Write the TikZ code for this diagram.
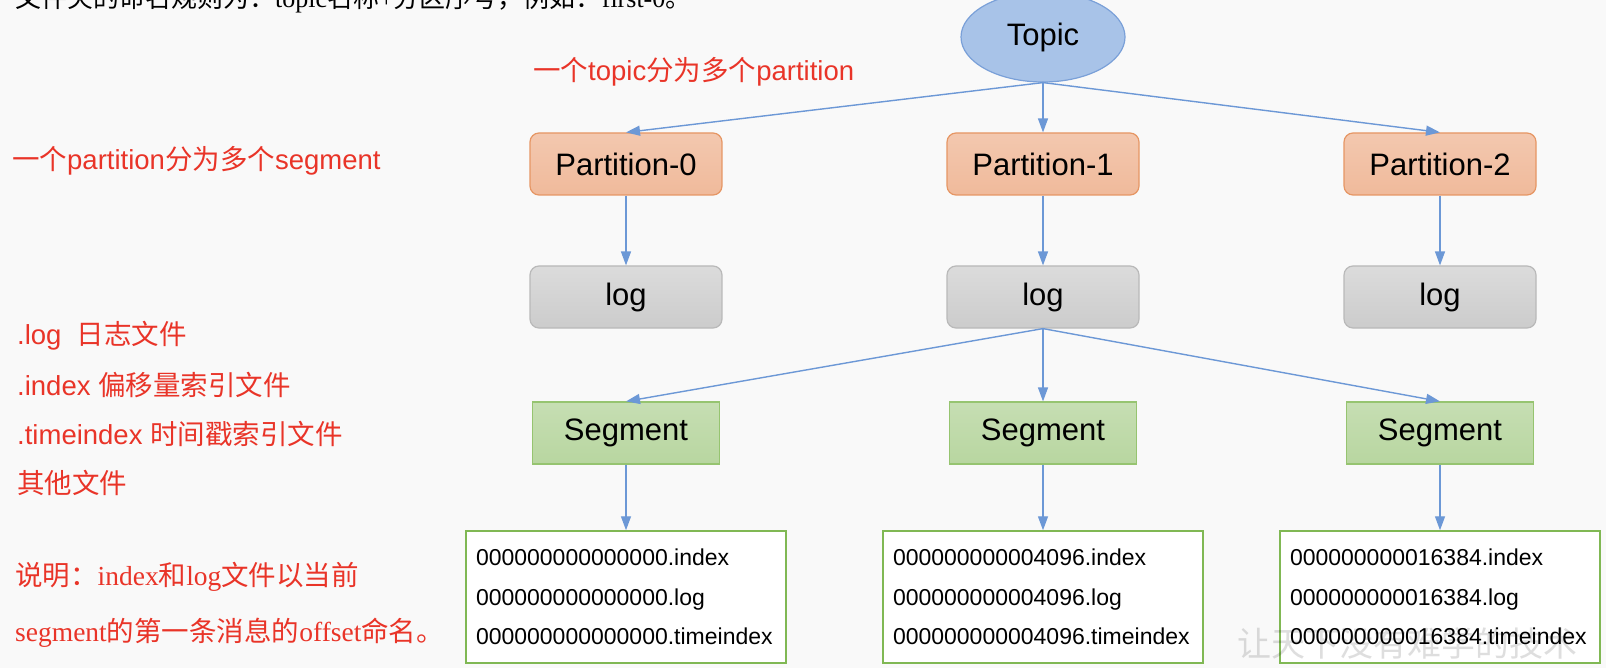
\documentclass[tikz,border=0pt]{standalone}
\usepackage{fontspec}
\setmainfont{Liberation Sans}
\newfontfamily\cjk{Noto Sans CJK SC}
\newfontfamily\latinserif{Liberation Serif}
\usetikzlibrary{arrows.meta,shapes.geometric}
\definecolor{paper}{RGB}{249,249,249}
\definecolor{linkblue}{RGB}{108,152,214}
\definecolor{notered}{RGB}{233,52,40}
\definecolor{topicfill}{RGB}{168,195,232}
\definecolor{topicline}{RGB}{122,160,216}
\definecolor{partfill}{RGB}{240,186,155}
\definecolor{partline}{RGB}{230,150,100}
\definecolor{logfill}{RGB}{204,204,204}
\definecolor{logline}{RGB}{185,185,185}
\definecolor{segfill}{RGB}{184,214,160}
\definecolor{segline}{RGB}{150,196,112}
\definecolor{fileline}{RGB}{128,184,84}
\definecolor{wmgray}{RGB}{222,222,222}
\newcommand{\zhtext}[1]{{\cjk #1}}
\begin{document}
\begin{tikzpicture}[x=1pt,y=-1pt]
    \tikzset{topicnode/.style={ellipse, draw=topicline, line width=1.2pt, fill=topicfill, minimum width=164pt, minimum height=90pt, inner sep=0pt, font=\fontsize{31}{36}\selectfont},
        partbox/.style={rectangle, draw=partline, line width=1.2pt, top color=partfill!80!white, bottom color=partfill, rounded corners=9pt, minimum width=192pt, minimum height=62pt, font=\fontsize{31}{36}\selectfont},
        logbox/.style={rectangle, draw=logline, line width=1.2pt, top color=logfill!70!white, bottom color=logfill, rounded corners=9pt, minimum width=192pt, minimum height=62pt, font=\fontsize{31}{36}\selectfont},
        segbox/.style={rectangle, draw=segline, line width=1.2pt, top color=segfill!80!white, bottom color=segfill, minimum width=187pt, minimum height=62pt, font=\fontsize{31}{36}\selectfont},
        filebox/.style={rectangle, draw=fileline, line width=1.5pt, fill=white, text width=300pt, inner xsep=10pt, minimum height=132pt, align=left, font=\fontsize{23}{39.5}\selectfont},
        note/.style={inner sep=0pt, text=notered, font=\fontsize{27.5}{33}\selectfont}};
    \fill[paper] (0,0) rectangle (1606,668);
    \useasboundingbox (0,0) rectangle (1606,668);
    \node[anchor=base west, inner sep=0pt, font=\latinserif\fontsize{26}{30}\selectfont] (foldernote) at (15,8) {\zhtext{文件夹的命名规则为：}topic\zhtext{名称}+\zhtext{分区序号，例如：}first-0\zhtext{。}};
    \node[note, anchor=west] (topicnote) at (533,72) {\zhtext{一个}topic\zhtext{分为多个}partition};
    \node[note, anchor=west] (partnote) at (12,161) {\zhtext{一个}partition\zhtext{分为多个}segment};
    \node[note, anchor=west] (lognote) at (17,336) {.log\ \ \zhtext{日志文件}};
    \node[note, anchor=west] (indexnote) at (17,385) {.index \zhtext{偏移量索引文件}};
    \node[note, anchor=west] (timenote) at (17,434) {.timeindex \zhtext{时间戳索引文件}};
    \node[note, anchor=west] (othernote) at (17,483) {\zhtext{其他文件}};
    \node[note, anchor=west, font=\latinserif\fontsize{27.5}{32}\selectfont] (namenote) at (15,577) {\zhtext{说明：}index\zhtext{和}log\zhtext{文件以当前}};
    \node[note, anchor=west, font=\latinserif\fontsize{27.5}{32}\selectfont] (offsetnote) at (15,633) {segment\zhtext{的第一条消息的}offset\zhtext{命名。}};
    \node[topicnode] (topic) at (1043,37) {Topic}
        [level 1/.style={level distance=127pt}, level 2/.style={level distance=133pt},
         level 3/.style={level distance=136pt}, level 4/.style={level distance=164pt},
         sibling distance=407pt,
         edge from parent/.style={draw=linkblue, line width=1.4pt, -{Triangle[length=14pt,width=10pt]}},
         edge from parent path={(\tikzparentnode.south) -- (\tikzchildnode.north)}]
        child[xshift=-10pt]{ node[partbox] (part0) {Partition-0}
            child{ node[logbox] (log0) {log} }
        }
        child{ node[partbox] (part1) {Partition-1}
            child{ node[logbox] (log1) {log}
                child[xshift=-10pt]{ node[segbox] (seg0) {Segment}
                    child{ node[filebox] (files0) {000000000000000.index\\000000000000000.log\\000000000000000.timeindex} }
                }
                child{ node[segbox] (seg1) {Segment}
                    child{ node[filebox] (files1) {000000000004096.index\\000000000004096.log\\000000000004096.timeindex} }
                }
                child[xshift=-10pt]{ node[segbox] (seg2) {Segment}
                    child{ node[filebox] (files2) {000000000016384.index\\000000000016384.log\\000000000016384.timeindex} }
                }
            }
        }
        child[xshift=-10pt]{ node[partbox] (part2) {Partition-2}
            child{ node[logbox] (log2) {log} }
        };
    \node[anchor=west, inner sep=0pt, text=wmgray, blend mode=multiply, font=\cjk\fontsize{34}{40}\selectfont] (watermark) at (1237,643) {让天下没有难学的技术};
\end{tikzpicture}
\end{document}
